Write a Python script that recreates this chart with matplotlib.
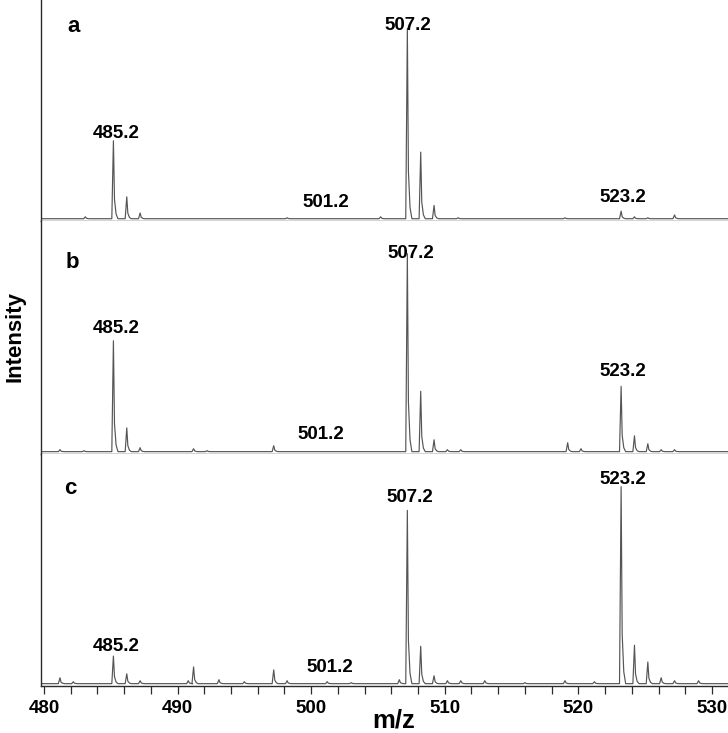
import matplotlib
matplotlib.use("Agg")
import matplotlib.pyplot as plt
from matplotlib.ticker import MultipleLocator
import numpy as np

plt.rcParams["font.family"] = ["Liberation Sans", "DejaVu Sans"]
plt.rcParams["font.weight"] = "bold"

# peak lists: m/z and relative intensity (%)
mz_a = [483.1, 485.2, 486.2, 487.2, 498.2, 505.2, 507.2, 508.2, 509.2,
        511.0, 519.0, 523.2, 524.2, 525.2, 527.2]
int_a = [1.0, 41.0, 11.5, 3.0, 0.5, 1.0, 100.0, 35.0, 7.0,
         0.5, 0.5, 4.0, 1.0, 0.5, 2.0]

mz_b = [481.2, 483.0, 485.2, 486.2, 487.2, 491.2, 492.2, 497.2, 507.2,
        508.2, 509.2, 510.2, 511.2, 519.2, 520.2, 523.2, 524.2, 525.2,
        526.2, 527.2]
int_b = [1.0, 0.5, 56.0, 12.0, 2.0, 1.5, 0.5, 3.0, 100.0,
         30.5, 6.0, 1.0, 1.0, 4.5, 1.5, 33.0, 8.0, 4.0,
         1.0, 1.0]

mz_c = [481.2, 482.2, 485.2, 486.2, 487.2, 490.8, 491.2, 493.1, 495.0,
        497.2, 498.2, 501.2, 503.0, 506.6, 507.2, 508.2, 509.2, 510.2,
        511.2, 513.0, 516.0, 519.0, 521.2, 523.2, 524.2, 525.2, 526.2,
        527.2, 529.0]
int_c = [3.0, 1.0, 14.0, 5.0, 1.5, 1.5, 8.5, 2.0, 1.0,
         7.0, 1.5, 1.0, 0.5, 2.0, 88.0, 19.0, 4.0, 1.5,
         1.5, 1.5, 0.5, 1.5, 1.0, 100.0, 19.5, 11.0, 3.0,
         1.5, 1.5]

# annotations: text, x (m/z), y (% units)
labels_a = [("485.2", 485.4, 44.8), ("507.2", 507.2, 101.6),
            ("501.2", 501.1, 8.3), ("523.2", 523.3, 10.9)]
labels_b = [("485.2", 485.4, 62.0), ("507.2", 507.45, 100.0),
            ("501.2", 500.75, 8.5), ("523.2", 523.3, 40.5)]
labels_c = [("485.2", 485.4, 19.0), ("507.2", 507.4, 94.5),
            ("501.2", 501.4, 8.0), ("523.2", 523.3, 103.5)]

panel_tags = ["a", "b", "c"]
tag_pos = [(0.047, 0.878), (0.045, 0.824), (0.042, 0.853)]

x_min, x_max = 479.78, 531.2


def trace(mz, inten):
    # narrow peaks with a short tail on the high-mass side
    xs = [x_min]
    ys = [0.0]
    for m, h in zip(mz, inten):
        xs += [m - 0.12, m, m + 0.08, m + 0.2, m + 0.34]
        ys += [0.0, h, h * 0.25, h * 0.06, 0.0]
    xs.append(x_max)
    ys.append(0.0)
    return np.array(xs), np.array(ys)


fig = plt.figure(figsize=(7.28, 7.33), dpi=100)
left = 41 / 728
panels = [
    (mz_a, int_a, labels_a, 0.6985, 1.0, 115.0),
    (mz_b, int_b, labels_b, 0.3806, 0.6985, 116.5),
    (mz_c, int_c, labels_c, 0.0641, 0.3806, 116.6),
]

line_col = "#555555"
axes = []
for i, (mz, inten, labs, y0, y1, ytop) in enumerate(panels):
    ax = fig.add_axes([left, y0, 1.0 - left, y1 - y0])
    x, y = trace(mz, inten)
    ax.plot(x, y, color=line_col, lw=0.85)
    ax.set_xlim(x_min, x_max)
    ax.set_ylim(-1.2, ytop)
    for s in ("top", "right"):
        ax.spines[s].set_visible(False)
    for s in ("left", "bottom"):
        ax.spines[s].set_color("#2b2b2b")
        ax.spines[s].set_linewidth(1.0)
    ax.set_yticks([])
    for txt, lx, ly in labs:
        ax.text(lx, ly, txt, ha="center", va="center", fontsize=13.5,
                fontweight="bold")
    ax.text(tag_pos[i][0], tag_pos[i][1], panel_tags[i], transform=ax.transAxes,
            ha="center", va="center", fontsize=16, fontweight="bold")
    if i < 2:
        ax.set_xticks([])
    axes.append(ax)

ax = axes[-1]
ax.xaxis.set_major_locator(MultipleLocator(10))
ax.xaxis.set_minor_locator(MultipleLocator(2))
ax.tick_params(axis="x", which="both", direction="out", length=6, width=0.9,
               color="#2b2b2b", pad=4, labelsize=13.5)
for lab in ax.get_xticklabels():
    lab.set_fontweight("bold")
ax.set_xlabel("m/z", fontsize=18.5, fontweight="bold")
ax.xaxis.set_label_coords(0.514, -0.095)

fig.text(15 / 728, 1 - 337 / 733, "Intensity", rotation=90, ha="center",
         va="center", fontsize=16, fontweight="bold")

fig.savefig("out.png", dpi=100)
